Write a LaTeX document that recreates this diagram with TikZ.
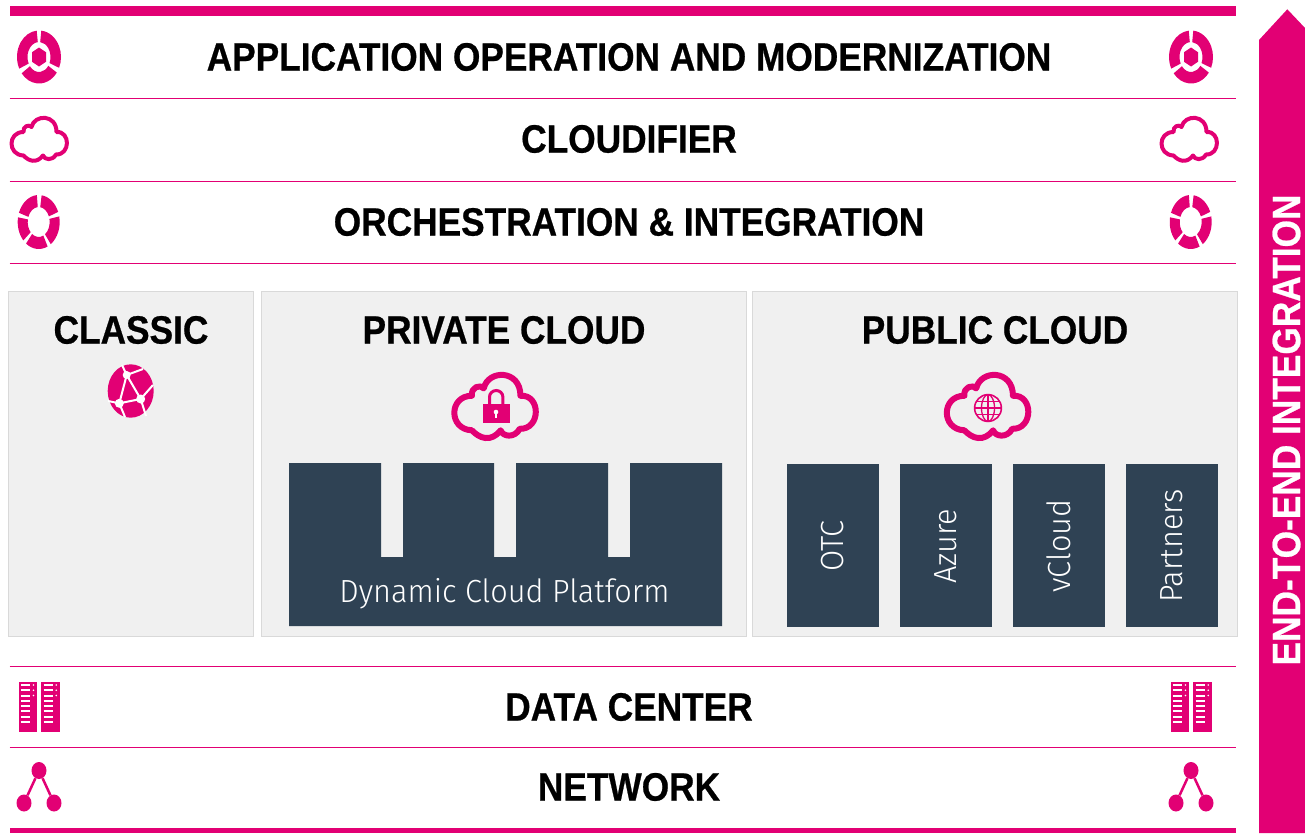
\documentclass[tikz,border=0pt]{standalone}
\usepackage{fontspec}
\usetikzlibrary{shapes.geometric}
\setmainfont{Fira Sans}
\newfontfamily\headfont[FakeStretch=0.893,FakeBold=0.6]{Liberation Sans Bold}
\newfontfamily\lightfont[FakeStretch=0.96]{Fira Sans Light}
\definecolor{tmagenta}{HTML}{E20074}
\definecolor{tdark}{HTML}{2F4254}
\definecolor{tpanel}{HTML}{F0F0F0}
\definecolor{tborder}{HTML}{D9D9D9}
\newcommand{\ringseg}[6]{\fill[tmagenta] (#1:#3 and #4) arc[start angle=#1,end angle=#2,x radius=#3,y radius=#4] -- (#2:#5 and #6) arc[start angle=#2,end angle=#1,x radius=#5,y radius=#6] -- cycle;}
\tikzset{
  rowtitle/.style={inner sep=0pt,font=\headfont\fontsize{39.5}{39.5}\selectfont},
  panel/.style={draw=tborder,fill=tpanel,line width=1pt,inner sep=0pt,outer sep=0pt},
  column/.style={fill=tdark,inner sep=0pt,outer sep=0pt,minimum width=92,minimum height=163},
  columntext/.style={rotate=90,text=white,inner sep=0pt,font=\lightfont\fontsize{32}{32}\selectfont},
  rowline/.style={draw=tmagenta,line width=1pt},
  netdot/.style={ellipse,fill=tmagenta,inner sep=0pt,minimum width=15,minimum height=17},
  ringicon/.pic={
    \ringseg{-84}{24}{22}{26.5}{11.5}{15}
    \ringseg{36}{142}{22}{26.5}{11.5}{15}
    \ringseg{154}{264}{22}{26.5}{11.5}{15}
    \fill[tmagenta] (0,-9.5) -- (7,-4.8) -- (7,4.8) -- (0,9.5) -- (-7,4.8) -- (-7,-4.8) -- cycle;
  },
  orchicon/.pic={
    \ringseg{-82}{-22}{21}{27}{11}{15}
    \ringseg{-12}{55}{21}{27}{11}{15}
    \ringseg{65}{127}{21}{27}{11}{15}
    \ringseg{137}{190}{21}{27}{11}{15}
    \ringseg{200}{265}{21}{27}{11}{15}
  },
  cloudicon/.pic={
    \draw[tmagenta,line width=#1,line join=round] (-15,15.5)
      .. controls (-31,15) and (-31,-8) .. (-15,-8)
      .. controls (-16,-14) and (-9,-16) .. (-7,-13)
      .. controls (-4,-26) and (18,-26) .. (18,-8)
      .. controls (32,-9) and (32,15) .. (17.5,14.5)
      .. controls (14,21) and (6,20) .. (4.5,15.5)
      .. controls (-2,24) and (-10,21) .. cycle;
  },
  servericon/.pic={
    \foreach \rackx in {-20.5,2.3}{
      \fill[tmagenta] (\rackx,-25) rectangle ++(18.4,50);
      \foreach \row in {0,...,7}
        \draw[white,line width=2pt] (\rackx+2.4,-22+\row*5.25) -- ++(9.3,0);
      \foreach \row in {0,1,2}
        \fill[white] (\rackx+15,-22+\row*5.25) circle (.9);
    }
  },
  networkicon/.pic={
    \node(-top)[netdot] at (0,-16.5){};
    \node(-left)[netdot] at (-15,16){};
    \node(-right)[netdot] at (15,16){};
    \draw[tmagenta,line width=2.5pt] (-top) -- (-left);
    \draw[tmagenta,line width=2.5pt] (-top) -- (-right);
  }
}
\begin{document}
\begin{tikzpicture}[x=1pt,y=-1pt]
  \useasboundingbox (0,0) rectangle (1305,833);
  \fill[tmagenta] (10,6) rectangle (1236,16);
  \fill[tmagenta] (10,828) rectangle (1236,833);
  \foreach \liney in {98,181,263,666,747}
    \draw[rowline] (9.5,\liney) -- (1236,\liney);

  \node(application)[rowtitle] at (629,57){APPLICATION OPERATION AND MODERNIZATION};
  \node(cloudifier)[rowtitle] at (629,139){CLOUDIFIER};
  \node(orchestration)[rowtitle] at (629,222){ORCHESTRATION \& INTEGRATION};
  \node(datacenter)[rowtitle] at (629,707){DATA CENTER};
  \node(network)[rowtitle] at (629,787){NETWORK};

  \pic at (39,57){ringicon};
  \pic at (1191,57){ringicon};
  \pic at (38.5,140){cloudicon=4};
  \pic at (1188.5,140){cloudicon=4};
  \pic at (38.7,222){orchicon};
  \pic at (1190.7,222){orchicon};
  \pic at (39,707){servericon};
  \pic at (1191,707){servericon};
  \pic(netl) at (39,787){networkicon};
  \pic(netr) at (1191,787){networkicon};

  \node(classicbox)[panel,minimum width=245,minimum height=345] at (131,464){};
  \node(privatebox)[panel,minimum width=485,minimum height=345] at (504,464){};
  \node(publicbox)[panel,minimum width=485,minimum height=345] at (995,464){};
  \node(classic)[rowtitle] at (131,330){CLASSIC};
  \node(private)[rowtitle] at (504,330){PRIVATE CLOUD};
  \node(public)[rowtitle] at (995,330){PUBLIC CLOUD};

  \fill[tmagenta] (130.7,391) ellipse (23 and 26.7);
  \coordinate(cla) at (126.7,375);
  \coordinate(clb) at (140.7,399);
  \coordinate(clc) at (119.3,403.3);
  \draw[white,line width=2pt] (cla) -- (clb) -- (clc) -- cycle;
  \draw[white,line width=2pt] (cla) -- (122,365);
  \draw[white,line width=2pt] (cla) -- (143,369);
  \draw[white,line width=2pt] (clb) -- (153,385);
  \draw[white,line width=2pt] (clb) -- (146,416);
  \draw[white,line width=2pt] (clc) -- (108,401);
  \draw[white,line width=2pt] (clc) -- (125,417);
  \fill[white] (cla) circle (4);
  \fill[white] (clb) circle (4.5);
  \fill[white] (clc) circle (4.5);

  \pic[scale=1.47] at (494,407.5){cloudicon=6};
  \pic[scale=1.47] at (986.5,407.5){cloudicon=6};

  \draw[tmagenta,line width=3pt] (489.5,405) -- (489.5,397) arc[start angle=180,end angle=360,x radius=6.7,y radius=6.5] -- (502.9,405);
  \fill[tmagenta] (483,404) rectangle (509.5,422.5);
  \fill[white] (496,412) circle (2.3);
  \fill[white] (495,412) rectangle (497,418);

  \draw[tmagenta,line width=1.6pt] (988,408) circle (13.4);
  \draw[tmagenta,line width=1.3pt] (988,408) ellipse (6.5 and 13.4);
  \draw[tmagenta,line width=1.3pt] (988,394.6) -- (988,421.4);
  \draw[tmagenta,line width=1.3pt] (976,401.5) -- (1000,401.5);
  \draw[tmagenta,line width=1.3pt] (974.6,408) -- (1001.4,408);
  \draw[tmagenta,line width=1.3pt] (976,414.5) -- (1000,414.5);

  \fill[tdark] (289,463) -- (381,463) -- (381,557) -- (403,557) -- (403,463) -- (494,463) -- (494,557) -- (516,557) -- (516,463) -- (608,463) -- (608,557) -- (630,557) -- (630,463) -- (722,463) -- (722,626) -- (289,626) -- cycle;
  \node(platform)[text=white,inner sep=0pt,font=\lightfont\fontsize{32}{32}\selectfont] at (504.5,594){Dynamic Cloud Platform};

  \node(otcbox)[column] at (833,545.5){};
  \node(azurebox)[column] at (946,545.5){};
  \node(vcloudbox)[column] at (1059,545.5){};
  \node(partnersbox)[column] at (1172,545.5){};
  \node(otc)[columntext] at (833,546){OTC};
  \node(azure)[columntext] at (946,546){Azure};
  \node(vcloud)[columntext] at (1059,546){vCloud};
  \node(partners)[columntext] at (1172,546){Partners};

  \fill[tmagenta] (1259,833) -- (1259,40) -- (1287.3,9.3) -- (1305,28) -- (1305,833) -- cycle;
  \node(endtoend)[rowtitle,rotate=90,text=white] at (1286.5,430){END-TO-END INTEGRATION};
\end{tikzpicture}
\end{document}
